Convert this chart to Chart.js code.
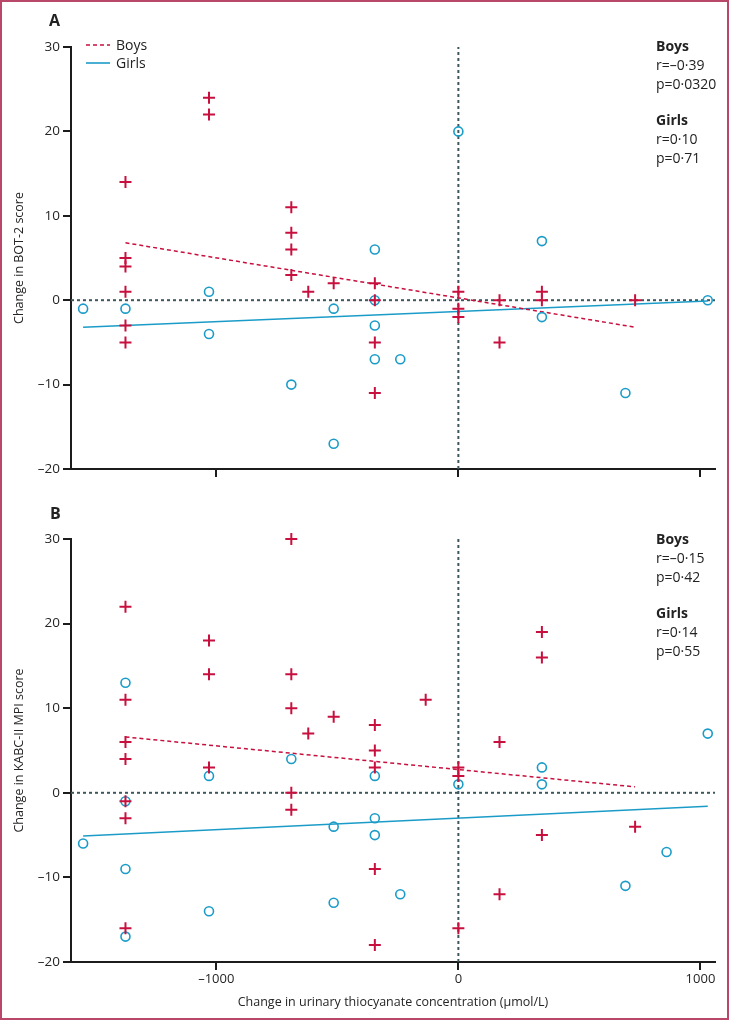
<!DOCTYPE html>
<html>
<head>
<meta charset="utf-8">
<script src="https://cdn.jsdelivr.net/npm/chart.js@4.4.1/dist/chart.umd.min.js"></script>
<style>
  html, body { margin: 0; padding: 0; background: #fff; }
  #page { position: relative; width: 729px; height: 1020px; overflow: hidden; font-family: "Open Sans", sans-serif; color: #222; }
  #page canvas { position: absolute; left: 0; }
  #frame { position: absolute; inset: 0; border: 2px solid #b8476a; pointer-events: none; }
  .tag { position: absolute; font-weight: 700; font-size: 16px; }
  .stats { position: absolute; left: 656px; font-size: 14px; line-height: 19px; }
  .stats b { font-weight: 700; }
  .legend { position: absolute; left: 86px; top: 36px; font-size: 14px; line-height: 18px; }
  .legend div { display: flex; align-items: center; }
  .legend svg { margin-right: 4px; }
</style>
</head>
<body>
<div id="page">
  <canvas id="chartA" width="729" height="490" style="top:0"></canvas>
  <canvas id="chartB" width="729" height="530" style="top:490px"></canvas>

  <div class="tag" style="left:49px;top:9px">A</div>
  <div class="tag" style="left:50px;top:502px">B</div>

  <div class="legend" id="legend"></div>

  <div class="stats" style="top:36px"><b>Boys</b><br>r=–0·39<br>p=0·0320</div>
  <div class="stats" style="top:110px"><b>Girls</b><br>r=0·10<br>p=0·71</div>
  <div class="stats" style="top:529px"><b>Boys</b><br>r=–0·15<br>p=0·42</div>
  <div class="stats" style="top:603px"><b>Girls</b><br>r=0·14<br>p=0·55</div>

  <div id="frame"></div>
</div>

<script>
// axes
const xTicks = [-1000, 0, 1000];
const yTicks = [-20, -10, 0, 10, 20, 30];
const xRange = [-1600, 1060];
const yRange = [-20, 30];

// Panel A - BOT-2
const boysAx = [-1375, -1375, -1375, -1375, -1375, -1375, -1030, -1030, -690, -690, -690, -690, -620, -515,
  -345, -345, -345, -345, 0, 0, 0, 170, 170, 345, 345, 730];
const boysAy = [14, 5, 4, 1, -3, -5, 24, 22, 11, 8, 6, 3, 1, 2,
  2, 0, -5, -11, 1, -1, -2, 0, -5, 1, 0, 0];
const girlsAx = [-1550, -1375, -1030, -1030, -690, -515, -515, -345, -345, -345, -345, -240, 0, 345, 345, 690, 1030];
const girlsAy = [-1, -1, 1, -4, -10, -1, -17, 6, 0, -3, -7, -7, 20, 7, -2, -11, 0];
const fitBoysAx = [-1375, 730];
const fitBoysAy = [6.8, -3.2];
const fitGirlsAx = [-1550, 1030];
const fitGirlsAy = [-3.2, -0.1];

// Panel B - KABC-II MPI
const boysBx = [-1375, -1375, -1375, -1375, -1375, -1375, -1375, -1030, -1030, -1030,
  -690, -690, -690, -690, -690, -620, -515, -345, -345, -345, -345, -345, -135,
  0, 0, 0, 170, 170, 345, 345, 345, 730];
const boysBy = [22, 11, 6, 4, -1, -3, -16, 18, 14, 3,
  30, 14, 10, 0, -2, 7, 9, 8, 5, 3, -9, -18, 11,
  3, 2, -16, 6, -12, 19, 16, -5, -4];
const girlsBx = [-1550, -1375, -1375, -1375, -1375, -1030, -1030, -690, -515, -515, -345, -345, -345, -240,
  0, 345, 345, 690, 860, 1030];
const girlsBy = [-6, 13, -1, -9, -17, 2, -14, 4, -4, -13, 2, -3, -5, -12,
  1, 3, 1, -11, -7, 7];
const fitBoysBx = [-1375, 730];
const fitBoysBy = [6.6, 0.7];
const fitGirlsBx = [-1550, 1030];
const fitGirlsBy = [-5.1, -1.6];

const boysColor = '#c8103e';
const girlsColor = '#1b9cc8';
const refColor = '#3e575c';
const axisColor = '#1c1c1c';
const textColor = '#252525';
const fontFamily = '"Open Sans", sans-serif';

const pts = (xs, ys) => xs.map((x, i) => ({ x, y: ys[i] }));
const dashFmt = (v) => (v < 0 ? '–' + Math.abs(v) : String(v));

// legend (HTML text, sample strokes match the datasets)
document.getElementById('legend').innerHTML =
  `<div><svg width="26" height="18"><line x1="0" y1="9" x2="24" y2="9" stroke="${boysColor}" stroke-width="1.6" stroke-dasharray="4 3"/></svg>Boys</div>` +
  `<div><svg width="26" height="18"><line x1="0" y1="9" x2="24" y2="9" stroke="${girlsColor}" stroke-width="1.6"/></svg>Girls</div>`;

function makePanel(id, cfg) {
  return new Chart(document.getElementById(id), {
    type: 'scatter',
    data: {
      datasets: [
        { data: pts(cfg.bx, cfg.by), pointStyle: 'cross', pointRadius: 6, borderWidth: 2, clip: false,
          borderColor: boysColor, backgroundColor: boysColor },
        { data: pts(cfg.gx, cfg.gy), pointStyle: 'circle', pointRadius: 4.5, borderWidth: 1.6, clip: false,
          borderColor: girlsColor, backgroundColor: 'rgba(0,0,0,0)' },
        { data: pts(cfg.fbx, cfg.fby), showLine: true, pointRadius: 0, borderColor: boysColor,
          borderWidth: 1.5, borderDash: [4, 3] },
        { data: pts(cfg.fgx, cfg.fgy), showLine: true, pointRadius: 0, borderColor: girlsColor,
          borderWidth: 1.5 },
        { data: [{ x: 0, y: yRange[0] }, { x: 0, y: yRange[1] }], showLine: true, pointRadius: 0,
          borderColor: refColor, borderWidth: 2, borderDash: [3, 3] },
        { data: [{ x: xRange[0], y: 0 }, { x: xRange[1], y: 0 }], showLine: true, pointRadius: 0,
          borderColor: refColor, borderWidth: 2, borderDash: [3, 3] },
      ],
    },
    options: {
      responsive: false,
      animation: false,
      layout: { padding: { top: cfg.padTop, right: 14, bottom: 0, left: 0 } },
      plugins: { legend: { display: false }, tooltip: { enabled: false } },
      scales: {
        x: {
          type: 'linear', min: xRange[0], max: xRange[1],
          afterBuildTicks: (s) => { s.ticks = xTicks.map((v) => ({ value: v })); },
          afterFit: (s) => { s.height = cfg.xAxisH; },
          grid: { drawOnChartArea: false, drawTicks: true, tickLength: 8, color: axisColor, lineWidth: 2 },
          border: { display: true, color: axisColor, width: 2 },
          ticks: { display: cfg.showX, autoSkip: false, maxRotation: 0, padding: 1, color: textColor,
            font: { family: fontFamily, size: 13 }, callback: dashFmt },
          title: { display: cfg.showX, text: 'Change in urinary thiocyanate concentration (µmol/L)',
            color: textColor, font: { family: fontFamily, size: 12.5 }, padding: { top: 0, bottom: 10 } },
        },
        y: {
          min: yRange[0], max: yRange[1],
          afterBuildTicks: (s) => { s.ticks = yTicks.map((v) => ({ value: v })); },
          afterFit: (s) => { s.width = 71; },
          grid: { drawOnChartArea: false, drawTicks: true, tickLength: 8, color: axisColor, lineWidth: 2 },
          border: { display: true, color: axisColor, width: 2 },
          ticks: { padding: 3, color: textColor, font: { family: fontFamily, size: 13.5 }, callback: dashFmt },
          title: { display: true, text: cfg.yTitle, color: textColor,
            font: { family: fontFamily, size: 12.5 }, padding: { top: 12, bottom: 0 } },
        },
      },
    },
  });
}

makePanel('chartA', {
  bx: boysAx, by: boysAy, gx: girlsAx, gy: girlsAy,
  fbx: fitBoysAx, fby: fitBoysAy, fgx: fitGirlsAx, fgy: fitGirlsAy,
  yTitle: 'Change in BOT-2 score', showX: false, padTop: 47, xAxisH: 21,
});

makePanel('chartB', {
  bx: boysBx, by: boysBy, gx: girlsBx, gy: girlsBy,
  fbx: fitBoysBx, fby: fitBoysBy, fgx: fitGirlsBx, fgy: fitGirlsBy,
  yTitle: 'Change in KABC-II MPI score', showX: true, padTop: 49, xAxisH: 58,
});
</script>
</body>
</html>
